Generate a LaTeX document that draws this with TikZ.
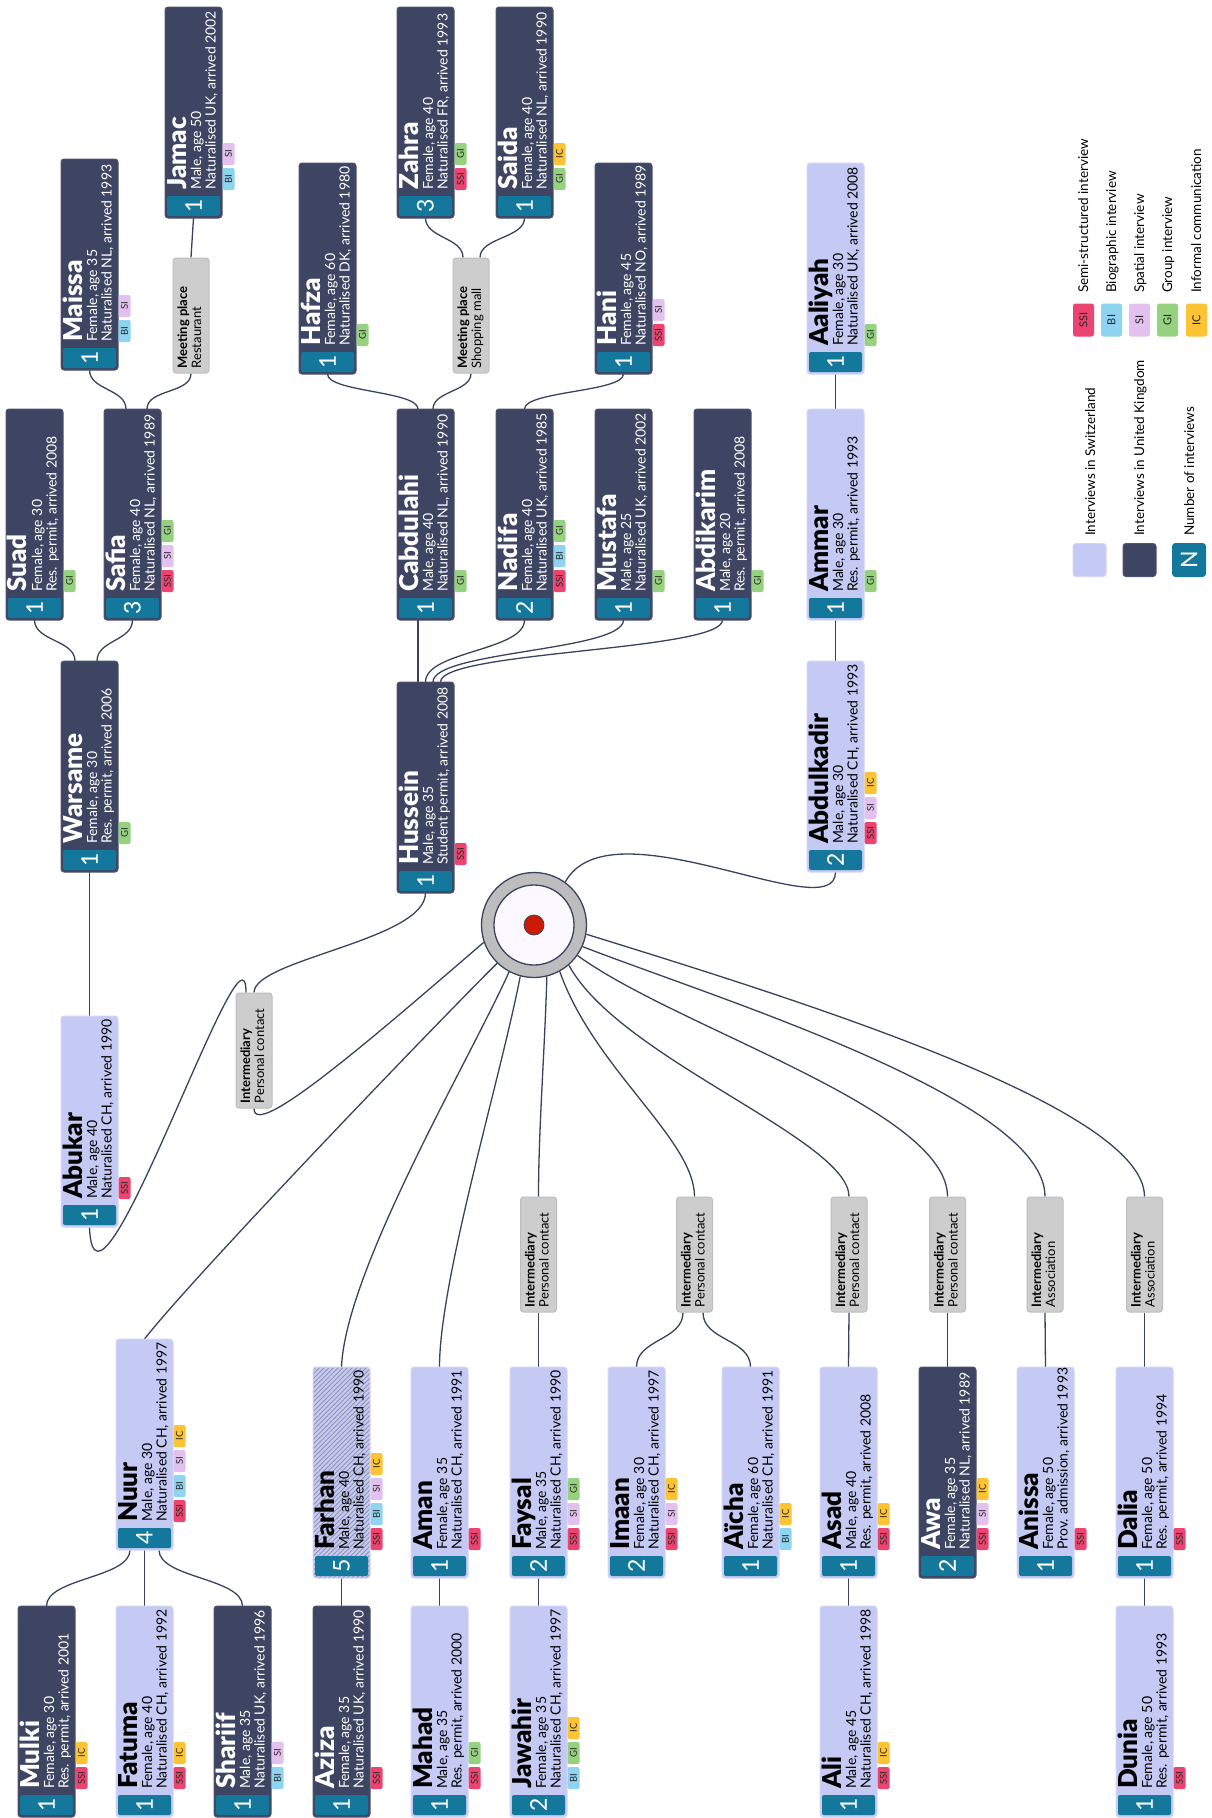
\documentclass[tikz,border=0pt]{standalone}
\usepackage{fontspec}
\setmainfont{Lato}
\newfontfamily\namefont{Lato Black}
\usetikzlibrary{patterns.meta}
\pgfdeclarelayer{paper}
\pgfdeclarelayer{wires}
\pgfsetlayers{paper,wires,main}

\definecolor{ukfill}{HTML}{3E4563}
\definecolor{ukedge}{HTML}{4E546F}
\definecolor{chfill}{HTML}{C5CAF5}
\definecolor{chedge}{HTML}{D2D5F7}
\definecolor{numbar}{HTML}{13789B}
\definecolor{linkcol}{HTML}{3B4260}
\definecolor{hatchcol}{HTML}{9294AE}
\definecolor{viafill}{HTML}{CDCDCD}
\definecolor{viaedge}{HTML}{BDBDBD}
\definecolor{hubring}{HTML}{BDBDBD}
\definecolor{hubcore}{HTML}{FCF8FF}
\definecolor{hubdot}{HTML}{CC1B00}
\definecolor{tgSSI}{HTML}{EB4470}
\definecolor{tgBI}{HTML}{8ED3F0}
\definecolor{tgSI}{HTML}{E2C1EE}
\definecolor{tgGI}{HTML}{96D17F}
\definecolor{tgIC}{HTML}{FCC434}

\newcommand{\fsz}[1]{\fontsize{#1}{#1}\selectfont}

% one interviewee card: id, left x, top y, kind (uk/ch/hatch), count, name, line 1, line 2
\newcommand{\person}[8]{%
  \node[#4box] (#1) at ({#2+28.5},{#3+105.5}) {};
  \fill[numbar, rounded corners=2pt] ([xshift=2pt,yshift=2pt]#1.south west) rectangle ([xshift=-2pt,yshift=22pt]#1.south east);
  \node[digit] (#1-n) at ([yshift=12pt]#1.south) {#5};
  \node[namelbl,#4text] (#1-name) at ([xshift=21pt,yshift=28pt]#1.south west) {#6};
  \node[infolbl,#4text] (#1-a) at ([xshift=36pt,yshift=28pt]#1.south west) {#7};
  \node[infolbl,#4text] (#1-b) at ([xshift=50.5pt,yshift=28pt]#1.south west) {#8};
}
% interview type badges along the outer edge of a card
\newcommand{\tags}[2]{%
  \foreach \tg [count=\i from 0] in {#2} {
    \pgfmathsetmacro\ty{39+25*\i}
    \node[tag, fill=tg\tg] (#1-\tg) at ([xshift=6.5pt,yshift=\ty pt]#1.south east) {\tg};
  }
}
% grey intermediary / meeting place box: id, centre x, centre y, heading, kind
\newcommand{\via}[5]{%
  \node[viabox] (#1) at (#2,#3) {};
  \node[vialbl,font=\fsz{13}\bfseries] (#1-a) at ([xshift=14.5pt,yshift=5pt]#1.south west) {#4};
  \node[vialbl,font=\fsz{13}] (#1-b) at ([xshift=28.5pt,yshift=5pt]#1.south west) {#5};
}

\begin{document}
\begin{tikzpicture}[x=1pt,y=-1pt,
  boxbase/.style={rectangle, rounded corners=3pt, minimum width=57pt, minimum height=211pt,
    inner sep=0pt, outer sep=0pt, line width=1pt},
  ukbox/.style={boxbase, fill=ukfill, draw=ukedge},
  chbox/.style={boxbase, fill=chfill, draw=chedge},
  hatchbox/.style={boxbase, draw=chedge, preaction={fill=chfill},
    pattern={Lines[angle=45,distance=3.3pt,line width=0.9pt]}, pattern color=hatchcol},
  uktext/.style={text=white},
  chtext/.style={text=black},
  hatchtext/.style={text=black},
  digit/.style={rotate=90, inner sep=0pt, text=white, font=\fsz{23}},
  namelbl/.style={rotate=90, anchor=base west, inner sep=0pt, font=\fsz{26}\namefont},
  infolbl/.style={rotate=90, anchor=base west, inner sep=0pt, font=\fsz{14}},
  tag/.style={rectangle, rounded corners=2pt, rotate=90, minimum width=22pt, minimum height=12pt,
    inner sep=0pt, text=black!85, font=\fsz{9.5}},
  viabox/.style={rectangle, rounded corners=3pt, minimum width=36pt, minimum height=115pt,
    inner sep=0pt, fill=viafill, draw=viaedge, line width=1pt},
  vialbl/.style={rotate=90, anchor=base west, inner sep=0pt, text=black},
  link/.style={draw=linkcol, line width=1.3pt},
  legsw/.style={rectangle, rounded corners=3pt, minimum size=33pt, inner sep=0pt, line width=1pt},
  legtag/.style={rectangle, rounded corners=2.5pt, rotate=90, minimum width=33pt, minimum height=21pt,
    inner sep=0pt, text=black!85, font=\fsz{11}},
  legtext/.style={rotate=90, anchor=base west, inner sep=0pt, text=black, font=\fsz{13.5}}
]
\begin{pgfonlayer}{paper}
  \fill[white] (0,0) rectangle (1211,1818);
\end{pgfonlayer}
\useasboundingbox (0,0) rectangle (1211,1818);

% ---- centre
\node[circle, minimum size=105pt, inner sep=0pt, fill=hubring, draw=linkcol, line width=1.3pt] (hub) at (534,925) {};
\node[circle, minimum size=80pt, inner sep=0pt, fill=hubcore, draw=linkcol, line width=1.3pt] (hubin) at (hub) {};
\node[circle, minimum size=20pt, inner sep=0pt, fill=hubdot, draw=linkcol, line width=0.8pt] (hubdot) at (hub) {};

% ---- cards, upper part
\person{jamac}{165}{7}{uk}{1}{Jamac}{Male, age 50}{Naturalised UK, arrived 2002}
\tags{jamac}{BI,SI}
\person{zahra}{397}{7}{uk}{3}{Zahra}{Female, age 40}{Naturalised FR, arrived 1993}
\tags{zahra}{SSI,GI}
\person{saida}{496}{7}{uk}{1}{Saida}{Female, age 40}{Naturalised NL, arrived 1990}
\tags{saida}{GI,IC}
\person{maissa}{61}{159}{uk}{1}{Maissa}{Female, age 35}{Naturalised NL, arrived 1993}
\tags{maissa}{BI,SI}
\person{hafza}{299}{163}{uk}{1}{Hafza}{Female, age 60}{Naturalised DK, arrived 1980}
\tags{hafza}{GI}
\person{hani}{595}{163}{uk}{1}{Hani}{Female, age 45}{Naturalised NO, arrived 1989}
\tags{hani}{SSI,SI}
\person{aaliyah}{807}{163}{ch}{1}{Aaliyah}{Female, age 30}{Naturalised UK, arrived 2008}
\tags{aaliyah}{GI}
\person{suad}{6}{409}{uk}{1}{Suad}{Female, age 30}{Res. permit, arrived 2008}
\tags{suad}{GI}
\person{safia}{104}{409}{uk}{3}{Safia}{Female, age 40}{Naturalised NL, arrived 1989}
\tags{safia}{SSI,SI,GI}
\person{cabdulahi}{397}{409}{uk}{1}{Cabdulahi}{Male, age 40}{Naturalised NL, arrived 1990}
\tags{cabdulahi}{GI}
\person{nadifa}{496}{409}{uk}{2}{Nadifa}{Female, age 40}{Naturalised UK, arrived 1985}
\tags{nadifa}{SSI,BI,GI}
\person{mustafa}{595}{409}{uk}{1}{Mustafa}{Male, age 25}{Naturalised UK, arrived 2002}
\tags{mustafa}{GI}
\person{abdikarim}{694}{409}{uk}{1}{Abdikarim}{Male, age 20}{Res. permit, arrived 2008}
\tags{abdikarim}{GI}
\person{ammar}{807}{409}{ch}{1}{Ammar}{Male, age 30}{Res. permit, arrived 1993}
\tags{ammar}{GI}
\person{warsame}{61}{661}{uk}{1}{Warsame}{Female, age 30}{Res. permit, arrived 2006}
\tags{warsame}{GI}
\person{hussein}{397}{682}{uk}{1}{Hussein}{Male, age 35}{Student permit, arrived 2008}
\tags{hussein}{SSI}
\person{abdulkadir}{807}{661}{ch}{2}{Abdulkadir}{Male, age 30}{Naturalised CH, arrived 1993}
\tags{abdulkadir}{SSI,SI,IC}
\person{abukar}{61}{1016}{ch}{1}{Abukar}{Male, age 40}{Naturalised CH, arrived 1990}
\tags{abukar}{SSI}

% ---- cards, lower part
\person{nuur}{116}{1339}{ch}{4}{Nuur}{Male, age 30}{Naturalised CH, arrived 1997}
\tags{nuur}{SSI,BI,SI,IC}
\person{farhan}{313}{1367}{hatch}{5}{Farhan}{Male, age 40}{Naturalised CH, arrived 1990}
\tags{farhan}{SSI,BI,SI,IC}
\person{aman}{411}{1367}{ch}{1}{Aman}{Female, age 35}{Naturalised CH, arrived 1991}
\tags{aman}{SSI}
\person{faysal}{510}{1367}{ch}{2}{Faysal}{Male, age 35}{Naturalised CH, arrived 1990}
\tags{faysal}{SSI,SI,GI}
\person{imaan}{608}{1367}{ch}{2}{Imaan}{Female, age 30}{Naturalised CH, arrived 1997}
\tags{imaan}{SSI,SI,IC}
\person{aicha}{722}{1367}{ch}{1}{Aïcha}{Female, age 60}{Naturalised CH, arrived 1991}
\tags{aicha}{BI,IC}
\person{asad}{820}{1367}{ch}{1}{Asad}{Male, age 40}{Res. permit, arrived 2008}
\tags{asad}{SSI,IC}
\person{awa}{919}{1367}{uk}{2}{Awa}{Female, age 35}{Naturalised NL, arrived 1989}
\tags{awa}{SSI,SI,IC}
\person{anissa}{1017}{1367}{ch}{1}{Anissa}{Female, age 50}{Prov. admission, arrived 1993}
\tags{anissa}{SSI}
\person{dalia}{1116}{1367}{ch}{1}{Dalia}{Female, age 50}{Res. permit, arrived 1994}
\tags{dalia}{SSI}
\person{mulki}{18}{1606}{uk}{1}{Mulki}{Female, age 30}{Res. permit, arrived 2001}
\tags{mulki}{SSI,IC}
\person{fatuma}{116}{1606}{ch}{1}{Fatuma}{Female, age 40}{Naturalised CH, arrived 1992}
\tags{fatuma}{SSI,IC}
\person{shariif}{214}{1606}{uk}{1}{Shariif}{Male, age 35}{Naturalised UK, arrived 1996}
\tags{shariif}{BI,SI}
\person{aziza}{313}{1606}{uk}{1}{Aziza}{Female, age 35}{Naturalised UK, arrived 1990}
\tags{aziza}{SSI}
\person{mahad}{411}{1606}{ch}{1}{Mahad}{Male, age 35}{Res. permit, arrived 2000}
\tags{mahad}{SSI,GI}
\person{jawahir}{510}{1606}{ch}{2}{Jawahir}{Female, age 35}{Naturalised CH, arrived 1997}
\tags{jawahir}{BI,GI,IC}
\person{ali}{820}{1606}{ch}{1}{Ali}{Male, age 45}{Naturalised CH, arrived 1998}
\tags{ali}{SSI,IC}
\person{dunia}{1116}{1606}{ch}{1}{Dunia}{Female, age 50}{Res. permit, arrived 1993}
\tags{dunia}{SSI}

% ---- intermediaries and meeting places
\via{rest}{191}{315.5}{Meeting place}{Restaurant}
\via{mall}{471}{315.5}{Meeting place}{Shopping mall}
\via{intl}{254}{1050.5}{Intermediary}{Personal contact}
\via{via1}{538.5}{1254.5}{Intermediary}{Personal contact}
\via{via2}{694.5}{1254.5}{Intermediary}{Personal contact}
\via{via3}{849}{1254.5}{Intermediary}{Personal contact}
\via{via4}{947.5}{1254.5}{Intermediary}{Personal contact}
\via{via5}{1045}{1254.5}{Intermediary}{Association}
\via{via6}{1144.5}{1254.5}{Intermediary}{Association}

% ---- legend
\node[legsw, fill=chfill, draw=chedge] (lg-ch) at (1089.5,560) {};
\node[legsw, fill=ukfill, draw=ukedge] (lg-uk) at (1139.5,560) {};
\node[legsw, fill=numbar, draw=numbar] (lg-n) at (1189,560) {};
\node[digit] (lg-nd) at (lg-n) {N};
\node[legtext] (lg-ch-t) at (1095,536) {Interviews in Switzerland};
\node[legtext] (lg-uk-t) at (1144,536) {Interviews in United Kingdom};
\node[legtext] (lg-n-t) at (1194,536) {Number of interviews};
\node[legtag, fill=tgSSI] (lt-ssi) at (1083.5,320) {SSI};
\node[legtag, fill=tgBI] (lt-bi) at (1111.5,320) {BI};
\node[legtag, fill=tgSI] (lt-si) at (1139.5,320) {SI};
\node[legtag, fill=tgGI] (lt-gi) at (1167.5,320) {GI};
\node[legtag, fill=tgIC] (lt-ic) at (1196.5,320) {IC};
\node[legtext] (lt-ssi-t) at (1088,293) {Semi-structured interview};
\node[legtext] (lt-bi-t) at (1116,293) {Biographic interview};
\node[legtext] (lt-si-t) at (1144,293) {Spatial interview};
\node[legtext] (lt-gi-t) at (1172,293) {Group interview};
\node[legtext] (lt-ic-t) at (1201,293) {Informal communication};

% ---- connectors
\begin{pgfonlayer}{wires}
\draw[link] (jamac.south) -- (rest.north);
\draw[link] (maissa.south) .. controls +(0,20) and +(0,-20) .. ([xshift=-6.5pt]safia.north);
\draw[link] (rest.south) .. controls +(0,20) and +(0,-20) .. ([xshift=14.5pt]safia.north);
\draw[link] (suad.south) .. controls +(0,21) and +(0,-21) .. ([xshift=-14.5pt]warsame.north);
\draw[link] (safia.south) .. controls +(0,21) and +(0,-21) .. ([xshift=7.5pt]warsame.north);
\draw[link] (warsame.south) -- (abukar.north);
\draw[link] (abukar.south) .. controls +(5,133) and +(0,-93) .. ([xshift=-8pt]intl.north);
\draw[link] (intl.north) .. controls +(0,-33) and +(0,47) .. (hussein.south);
\draw[link] (hub.199) .. controls +(-116,100) and +(0,32) .. (intl.south);

\draw[link] (zahra.south) .. controls +(0,20) and +(0,-20) .. ([xshift=-8pt]mall.north);
\draw[link] (saida.south) .. controls +(0,20) and +(0,-20) .. ([xshift=9pt]mall.north);
\draw[link] (hafza.south) .. controls +(0,18) and +(0,-18) .. ([xshift=-7.5pt]cabdulahi.north);
\draw[link] (mall.south) .. controls +(0,18) and +(0,-18) .. ([xshift=7.5pt]cabdulahi.north);
\draw[link] (hani.south) .. controls +(0,18) and +(0,-18) .. (nadifa.north);
\draw[link] ([xshift=-7.5pt]cabdulahi.south) -- ([xshift=-7.5pt]hussein.north);
\draw[link] (nadifa.south) .. controls +(0,31) and +(0,-31) .. (hussein.north);
\draw[link] (mustafa.south) .. controls +(0,31) and +(0,-31) .. ([xshift=7.5pt]hussein.north);
\draw[link] (abdikarim.south) .. controls +(0,31) and +(0,-31) .. ([xshift=15pt]hussein.north);

\draw[link] (aaliyah.south) -- (ammar.north);
\draw[link] (ammar.south) -- (abdulkadir.north);
\draw[link] (hub.54) .. controls +(45,-82) and +(0,58) .. (abdulkadir.south);

\draw[link] (hub.226) .. controls +(-77,77) and +(45,-58) .. (nuur.north);
\draw[link] (hub.242) .. controls +(-39,87) and +(4,-97) .. (farhan.north);
\draw[link] (hub.255) .. controls +(-20,103) and +(0,-87) .. (aman.north);
\draw[link] (hub.284) .. controls +(-2,72) and +(0,-67) .. (via1.north);
\draw[link] (hub.299) .. controls +(34,97) and +(0,-57) .. (via2.north);
\draw[link] (hub.311) .. controls +(50,93) and +(0,-57) .. (via3.north);
\draw[link] (hub.325) .. controls +(100,73) and +(0,-87) .. (via4.north);
\draw[link] (hub.336) .. controls +(137,53) and +(0,-97) .. (via5.north);
\draw[link] (hub.350) .. controls +(213,66) and +(0,-89) .. (via6.north);

\draw[link] ([xshift=-14.5pt]nuur.south) .. controls +(0,28) and +(0,-28) .. (mulki.north);
\draw[link] (nuur.south) -- (fatuma.north);
\draw[link] ([xshift=14.5pt]nuur.south) .. controls +(0,28) and +(0,-28) .. (shariif.north);
\draw[link] (farhan.south) -- (aziza.north);
\draw[link] (aman.south) -- (mahad.north);
\draw[link] (faysal.south) -- (jawahir.north);
\draw[link] (asad.south) -- (ali.north);
\draw[link] (dalia.south) -- (dunia.north);

\draw[link] (via1.south) -- (faysal.north);
\draw[link] ([xshift=-11.5pt]via2.south) .. controls +(0,28) and +(0,-28) .. (imaan.north);
\draw[link] ([xshift=8.5pt]via2.south) .. controls +(0,28) and +(0,-28) .. (aicha.north);
\draw[link] (via3.south) -- (asad.north);
\draw[link] (via4.south) -- (awa.north);
\draw[link] (via5.south) -- (anissa.north);
\draw[link] (via6.south) -- (dalia.north);
\end{pgfonlayer}
\end{tikzpicture}
\end{document}
